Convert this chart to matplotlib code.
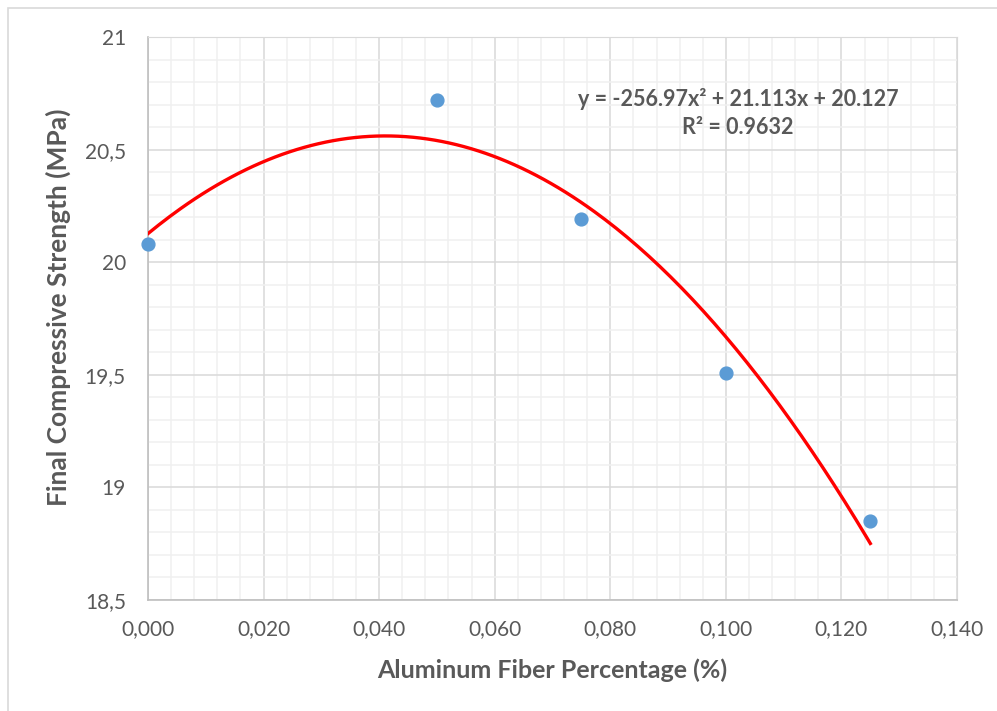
import numpy as np
import matplotlib.pyplot as plt
from matplotlib.ticker import MultipleLocator, FuncFormatter
from matplotlib.patches import Rectangle

fiber = [0.0, 0.05, 0.075, 0.1, 0.125]
strength = [20.08, 20.72, 20.19, 19.51, 18.85]
coef = [-256.97, 21.113, 20.127]   # trendline from the chart
eq_text = "y = -256.97x² + 21.113x + 20.127"
r2_text = "R² = 0.9632"

plt.rcParams['font.family'] = ['Lato', 'DejaVu Sans']
grey = '#595959'

fig = plt.figure(figsize=(9.97, 7.11), dpi=100)
fig.patches.append(Rectangle((8/997, -0.1), 1.2, 1 - 8/711 + 0.1, transform=fig.transFigure,
                             fill=False, edgecolor='#d9d9d9', linewidth=1.2))
ax = fig.add_axes([148/997, 1 - 600/711, 809/997, 563/711])

xs = np.linspace(0, 0.125, 200)
ax.plot(xs, np.polyval(coef, xs), color='red', linewidth=2.4, zorder=3)
ax.scatter(fiber, strength, s=85, color='#5b9bd5', zorder=4, clip_on=False)

ax.set_xlim(0, 0.14)
ax.set_ylim(18.5, 21)
ax.xaxis.set_major_locator(MultipleLocator(0.02))
ax.xaxis.set_minor_locator(MultipleLocator(0.004))
ax.yaxis.set_major_locator(MultipleLocator(0.5))
ax.yaxis.set_minor_locator(MultipleLocator(0.1))
ax.xaxis.set_major_formatter(FuncFormatter(lambda v, p: f"{v:.3f}".replace('.', ',')))
ax.yaxis.set_major_formatter(FuncFormatter(lambda v, p: f"{v:g}".replace('.', ',')))

ax.grid(which='major', color='#d9d9d9', linewidth=1.1)
ax.grid(which='minor', color='#f0f0f0', linewidth=1.1)
ax.set_axisbelow(True)
for s in ['top', 'right']:
    ax.spines[s].set_color('#d9d9d9')
for s in ['left', 'bottom']:
    ax.spines[s].set_color('#bfbfbf')
    ax.spines[s].set_linewidth(1.2)
ax.tick_params(which='both', length=0, labelsize=15, labelcolor=grey)
ax.tick_params(axis='x', pad=14)
ax.tick_params(axis='y', pad=16)

ax.set_xlabel('Aluminum Fiber Percentage (%)', fontsize=18, fontweight='bold', color=grey, labelpad=14)
ax.set_ylabel('Final Compressive Strength (MPa)', fontsize=19, fontweight='bold', color=grey)
ax.yaxis.set_label_coords(-0.095, 0.52)

ax.text(0.1021, 20.725, eq_text, fontsize=15.5, fontweight='bold', color=grey, ha='center', va='center')
ax.text(0.1021, 20.60, r2_text, fontsize=15.5, fontweight='bold', color=grey, ha='center', va='center')

fig.savefig('out.png', dpi=100)
